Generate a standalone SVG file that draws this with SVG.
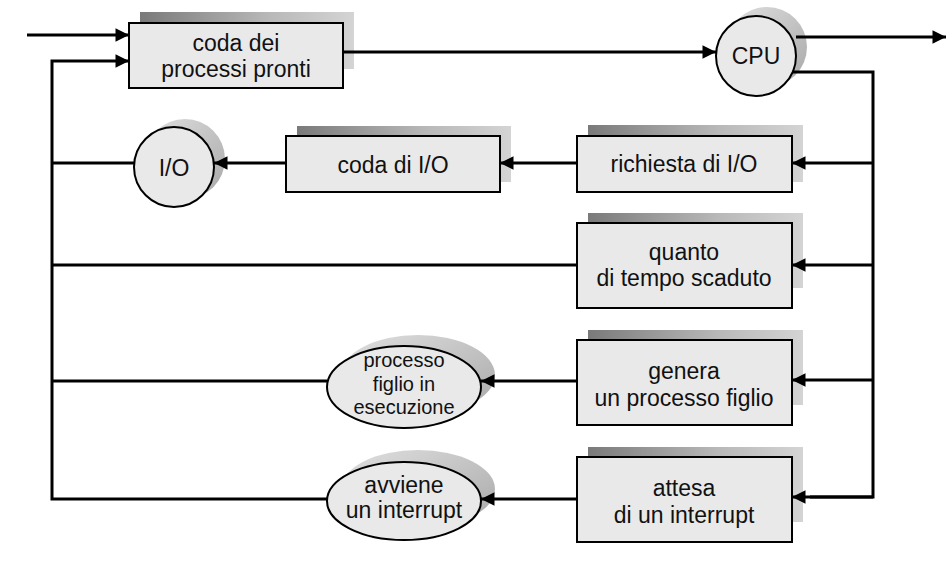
<svg xmlns="http://www.w3.org/2000/svg" width="952" height="565" viewBox="0 0 952 565">
<style>
.box{fill:#e9e9e9;stroke:#000;stroke-width:2}
.sh{fill:url(#gs)}
.csh{fill:url(#gc)}
.ln{fill:none;stroke:#000;stroke-width:3;stroke-linejoin:miter}
.ar{fill:none;stroke:#000;stroke-width:3;marker-end:url(#ah)}
text{font-family:"Liberation Sans",Arial,sans-serif;font-size:23px;fill:#111;text-anchor:middle}
.sm{font-size:20px}
</style>
<defs>
<linearGradient id="gs" x1="0" y1="0" x2="1" y2="0">
<stop offset="0" stop-color="#7a7a7a"/>
<stop offset="0.6" stop-color="#b8b8b8"/>
<stop offset="1" stop-color="#d4d4d4"/>
</linearGradient>
<linearGradient id="gc" x1="0" y1="0" x2="1" y2="1">
<stop offset="0" stop-color="#e0e0e0"/>
<stop offset="1" stop-color="#a8a8a8"/>
</linearGradient>
<marker id="ah" viewBox="0 0 10 10" refX="10" refY="5" markerWidth="6" markerHeight="4.5" markerUnits="strokeWidth" orient="auto">
<path d="M0,0 L10,5 L0,10 z" fill="#000"/>
</marker>
</defs>

<g id="coda-pronti">
<rect class="sh" x="140" y="12" width="214" height="57"/>
<rect class="box" x="129" y="23" width="214" height="65"/>
<text x="236" y="51">coda dei</text>
<text x="236" y="77">processi pronti</text>
</g>

<g id="cpu">
<circle class="csh" cx="767" cy="47" r="40"/>
<circle class="box" cx="756" cy="56" r="40"/>
<text x="756" y="64">CPU</text>
</g>

<g id="io">
<circle class="csh" cx="185" cy="159" r="40"/>
<circle class="box" cx="174" cy="167" r="40"/>
<text x="174" y="176">I/O</text>
</g>

<g id="coda-io">
<rect class="sh" x="297" y="126" width="214" height="56"/>
<rect class="box" x="286" y="136" width="214" height="56"/>
<text x="393" y="173">coda di I/O</text>
</g>

<g id="richiesta-io">
<rect class="sh" x="588" y="125" width="215" height="57"/>
<rect class="box" x="577" y="136" width="215" height="56"/>
<text x="684" y="172">richiesta di I/O</text>
</g>

<g id="quanto">
<rect class="sh" x="588" y="213" width="215" height="75"/>
<rect class="box" x="577" y="223" width="215" height="85"/>
<text x="684" y="260">quanto</text>
<text x="684" y="286">di tempo scaduto</text>
</g>

<g id="genera">
<rect class="sh" x="588" y="330" width="215" height="75"/>
<rect class="box" x="577" y="340" width="215" height="85"/>
<text x="684" y="379">genera</text>
<text x="684" y="406">un processo figlio</text>
</g>

<g id="attesa">
<rect class="sh" x="588" y="447" width="215" height="75"/>
<rect class="box" x="577" y="457" width="215" height="85"/>
<text x="684" y="496">attesa</text>
<text x="684" y="523">di un interrupt</text>
</g>

<g id="figlio-esecuzione">
<ellipse class="csh" cx="418" cy="375" rx="77" ry="40"/>
<ellipse class="box" cx="404" cy="387" rx="77" ry="41"/>
<text class="sm" x="404" y="367">processo</text>
<text class="sm" x="404" y="391">figlio in</text>
<text class="sm" x="404" y="414">esecuzione</text>
</g>

<g id="interrupt">
<ellipse class="csh" cx="418" cy="489" rx="77" ry="39"/>
<ellipse class="box" cx="404" cy="501" rx="77" ry="39"/>
<text x="404" y="493">avviene</text>
<text x="404" y="518">un interrupt</text>
</g>

<g id="connectors">
<path class="ar" d="M27,35 H129"/>
<path class="ar" d="M327,499 H52 V61 H129"/>
<path class="ar" d="M343,52 H716"/>
<path class="ar" d="M796,37 H946"/>
<path class="ln" d="M792,72 H873 V497 H810"/>
<path class="ar" d="M873,163 H792"/>
<path class="ar" d="M873,265 H792"/>
<path class="ar" d="M873,380 H792"/>
<path class="ar" d="M873,497 H792"/>
<path class="ar" d="M577,163 H500"/>
<path class="ar" d="M286,163 H214"/>
<path class="ln" d="M134,163 H52"/>
<path class="ln" d="M577,265 H52"/>
<path class="ar" d="M577,381 H481"/>
<path class="ln" d="M327,381 H52"/>
<path class="ar" d="M577,499 H481"/>
</g>
</svg>
